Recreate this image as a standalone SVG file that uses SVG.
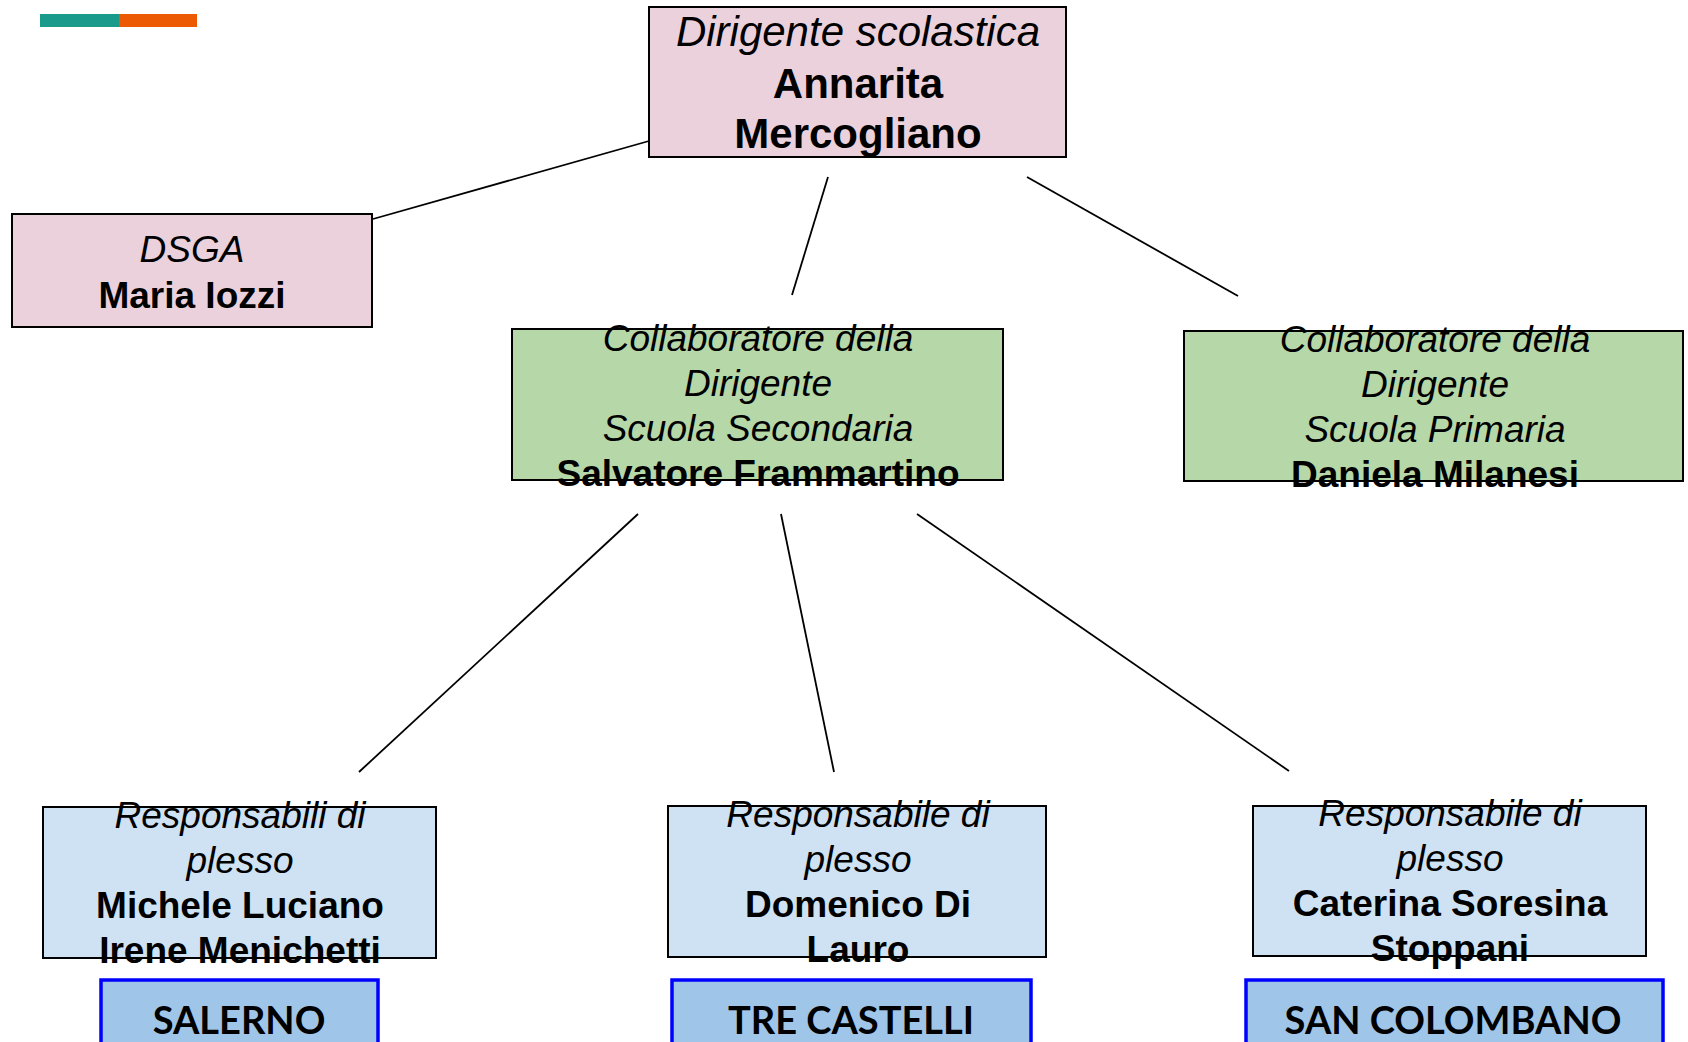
<svg xmlns="http://www.w3.org/2000/svg" width="1688" height="1042" viewBox="0 0 1688 1042">
<style>
  .box { stroke: #000; stroke-width: 2; }
  .pink { fill: #ead1dc; }
  .green { fill: #b6d7a8; }
  .lblue { fill: #cfe2f3; }
  .loc { fill: #9fc5e8; stroke: #0000ff; stroke-width: 3.5; }
  .t { font-family: "Liberation Sans", Arial, sans-serif; font-size: 37px; fill: #000; text-anchor: middle; }
  .big { font-size: 42px; }
  .i { font-style: italic; }
  .b { font-weight: bold; }
  .lt { font-family: Lato, "Open Sans", sans-serif; font-weight: bold; font-size: 38px; fill: #000; text-anchor: middle; }
  .conn line { stroke: #000; stroke-width: 1.8; }
</style>
<rect width="1688" height="1042" fill="#fff"/>
<rect x="40" y="14" width="79" height="13" fill="#1a9a8a"/>
<rect x="119" y="14" width="78" height="13" fill="#ec5a04"/>

<g id="connectors" class="conn">
  <line x1="649" y1="141" x2="373" y2="219"/>
  <line x1="828" y1="177" x2="792" y2="295"/>
  <line x1="1027" y1="177" x2="1238" y2="296"/>
  <line x1="638" y1="514" x2="359" y2="772"/>
  <line x1="781" y1="514" x2="834" y2="772"/>
  <line x1="917" y1="514" x2="1289" y2="771"/>
</g>

<g id="dirigente">
  <rect class="box pink" x="649" y="7" width="417" height="150"/>
  <text class="t big i" x="858" y="46">Dirigente scolastica</text>
  <text class="t big b" x="858" y="98">Annarita</text>
  <text class="t big b" x="858" y="148">Mercogliano</text>
</g>

<g id="dsga">
  <rect class="box pink" x="12" y="214" width="360" height="113"/>
  <text class="t i" x="192" y="262">DSGA</text>
  <text class="t b" x="192" y="308">Maria Iozzi</text>
</g>

<g id="collab-secondaria">
  <rect class="box green" x="512" y="329" width="491" height="151"/>
  <text class="t i" x="758" y="351">Collaboratore della</text>
  <text class="t i" x="758" y="396">Dirigente</text>
  <text class="t i" x="758" y="441">Scuola Secondaria</text>
  <text class="t b" x="758" y="486">Salvatore Frammartino</text>
</g>

<g id="collab-primaria">
  <rect class="box green" x="1184" y="331" width="499" height="150"/>
  <text class="t i" x="1435" y="352">Collaboratore della</text>
  <text class="t i" x="1435" y="397">Dirigente</text>
  <text class="t i" x="1435" y="442">Scuola Primaria</text>
  <text class="t b" x="1435" y="487">Daniela Milanesi</text>
</g>

<g id="resp-salerno">
  <rect class="box lblue" x="43" y="807" width="393" height="151"/>
  <text class="t i" x="240" y="828">Responsabili di</text>
  <text class="t i" x="240" y="873">plesso</text>
  <text class="t b" x="240" y="918">Michele Luciano</text>
  <text class="t b" x="240" y="963">Irene Menichetti</text>
</g>

<g id="resp-trecastelli">
  <rect class="box lblue" x="668" y="806" width="378" height="151"/>
  <text class="t i" x="858" y="827">Responsabile di</text>
  <text class="t i" x="858" y="872">plesso</text>
  <text class="t b" x="858" y="917">Domenico Di</text>
  <text class="t b" x="858" y="962">Lauro</text>
</g>

<g id="resp-sancolombano">
  <rect class="box lblue" x="1253" y="806" width="393" height="150"/>
  <text class="t i" x="1450" y="826">Responsabile di</text>
  <text class="t i" x="1450" y="871">plesso</text>
  <text class="t b" x="1450" y="916">Caterina Soresina</text>
  <text class="t b" x="1450" y="961">Stoppani</text>
</g>

<g id="loc-salerno">
  <rect class="loc" x="101" y="980" width="277" height="80"/>
  <text class="lt" x="239" y="1034">SALERNO</text>
</g>
<g id="loc-trecastelli">
  <rect class="loc" x="672" y="980" width="359" height="80"/>
  <text class="lt" x="851" y="1034">TRE CASTELLI</text>
</g>
<g id="loc-sancolombano">
  <rect class="loc" x="1246" y="980" width="417" height="80"/>
  <text class="lt" x="1453" y="1034">SAN COLOMBANO</text>
</g>
</svg>
